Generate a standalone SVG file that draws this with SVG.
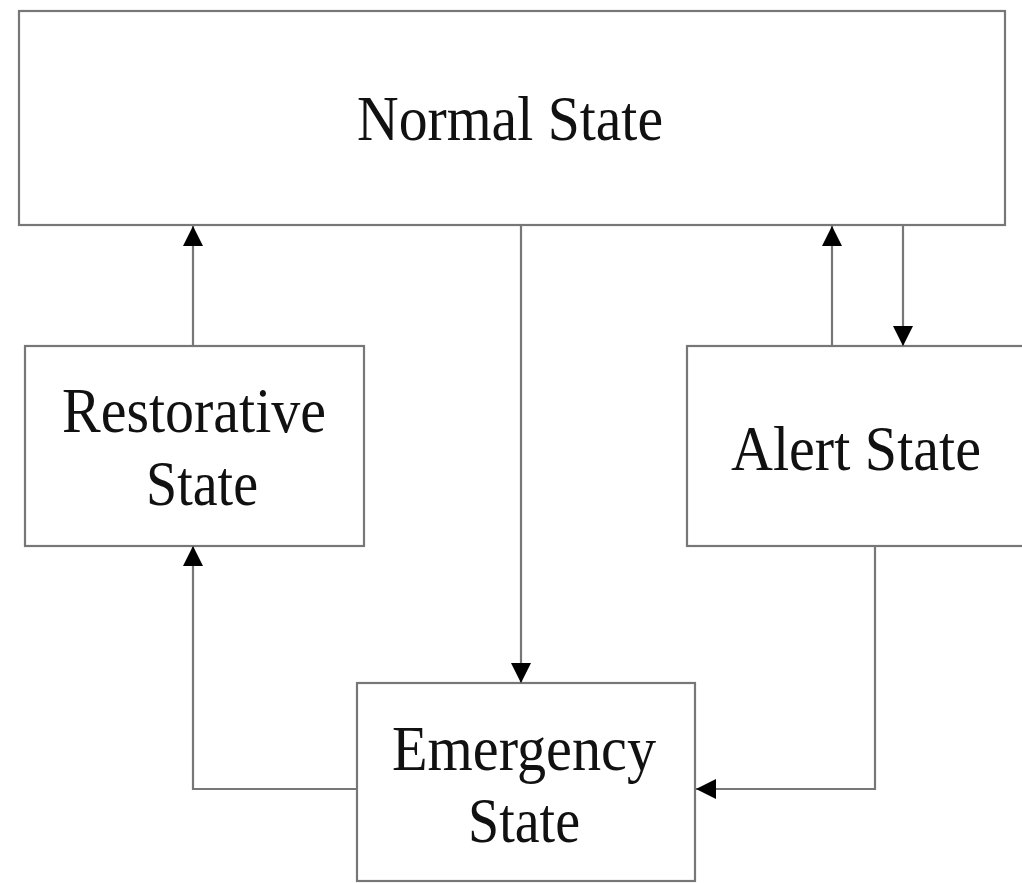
<svg xmlns="http://www.w3.org/2000/svg" width="1022" height="883" viewBox="0 0 1022 883">
<style>
.box{fill:#fff;stroke:#777;stroke-width:2.2}
.lbl{font-family:"Liberation Serif","Times New Roman",serif;font-size:63px;fill:#111;text-anchor:middle}
.con{fill:none;stroke:#777;stroke-width:2.2}
</style>
<defs>
<marker id="ah" markerWidth="20" markerHeight="20" refX="20" refY="10" orient="auto" markerUnits="userSpaceOnUse">
<path d="M0,0 L20,10 L0,20 Z" fill="#000"/>
</marker>
</defs>
<rect width="1022" height="883" fill="#fff"/>
<g id="normal">
<rect class="box" x="19" y="11" width="986" height="214"/>
<text class="lbl" x="510" y="140" textLength="306" lengthAdjust="spacingAndGlyphs">Normal State</text>
</g>
<g id="restorative">
<rect class="box" x="25" y="346" width="339" height="200"/>
<text class="lbl" x="194" y="432" textLength="264" lengthAdjust="spacingAndGlyphs">Restorative</text>
<text class="lbl" x="202" y="505" textLength="112" lengthAdjust="spacingAndGlyphs">State</text>
</g>
<g id="alert">
<rect class="box" x="687" y="346" width="345" height="200"/>
<text class="lbl" x="856" y="470" textLength="250" lengthAdjust="spacingAndGlyphs">Alert State</text>
</g>
<g id="emergency">
<rect class="box" x="357" y="683" width="338" height="198"/>
<text class="lbl" x="524" y="770" textLength="264" lengthAdjust="spacingAndGlyphs">Emergency</text>
<text class="lbl" x="524" y="842" textLength="112" lengthAdjust="spacingAndGlyphs">State</text>
</g>
<g id="connectors">
<path class="con" d="M193,346 V226" marker-end="url(#ah)"/>
<path class="con" d="M521,225 V683" marker-end="url(#ah)"/>
<path class="con" d="M832,346 V226" marker-end="url(#ah)"/>
<path class="con" d="M903,225 V346" marker-end="url(#ah)"/>
<path class="con" d="M357,789 H193 V546" marker-end="url(#ah)"/>
<path class="con" d="M875,546 V789 H696" marker-end="url(#ah)"/>
</g>
</svg>
